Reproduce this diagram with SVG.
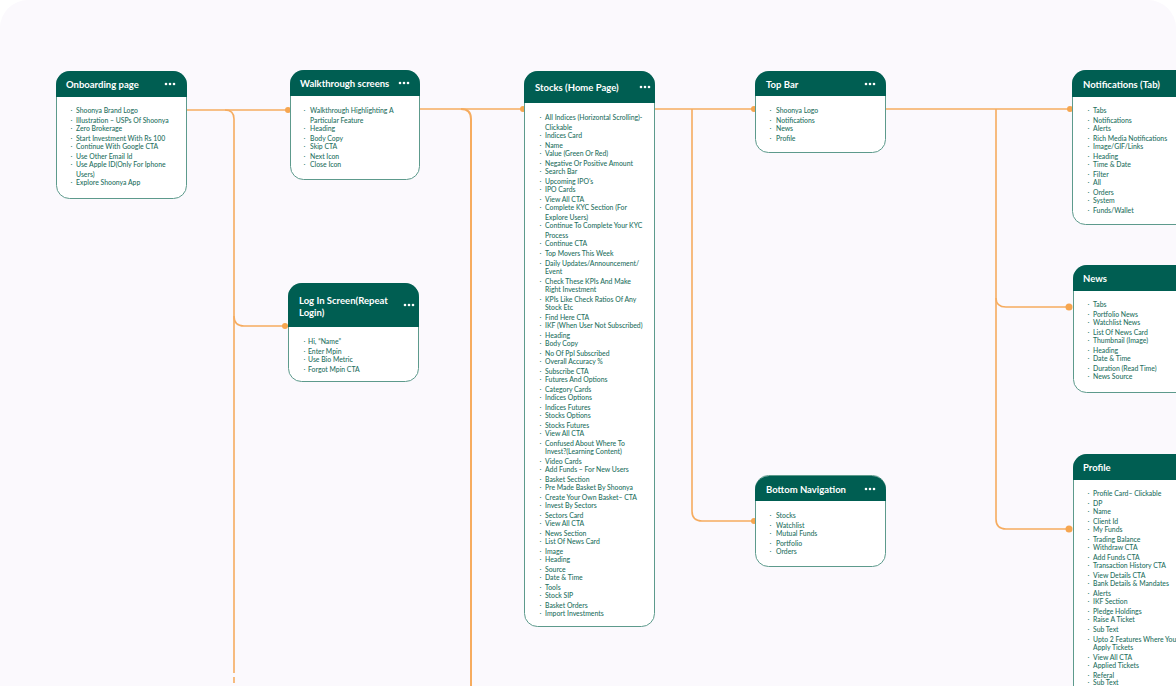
<svg xmlns="http://www.w3.org/2000/svg" width="1176" height="686" viewBox="0 0 1176 686">
<style>
.bg{fill:#fbf9fd}
.body{fill:#fff;stroke:#5d9a8c;stroke-width:1}
.head{fill:#005e52}
text{font-family:"Lato","Noto Sans",sans-serif}
.t{font-size:9.5px;font-weight:700;fill:#fff}
.i{font-size:6.85px;font-weight:500;fill:#1e6f60}
.b{font-size:9px;fill:#2f7f70;font-family:"Liberation Sans",sans-serif}
.d{fill:#fff}
.c{fill:none;stroke:#f6ac5f;stroke-width:1.6}
.w{stroke-width:2}
.p{fill:#f6a650}
</style>
<rect width="1176" height="686" fill="#ffffff"/>
<rect class="bg" width="1176" height="720" rx="28"/>
<g id="connectors">
<path class="c" d="M187 110H290"/>
<path class="c" d="M225 110Q234 110 234 119V673"/>
<path class="c" d="M234 677V683"/>
<path class="c" d="M234 316Q234 326 244 326H289"/>
<path class="c" d="M420 109H525"/>
<path class="c w" d="M461 109Q471 109 471 119V686"/>
<path class="c" d="M655 109H756"/>
<path class="c" d="M692 109V511Q692 521 702 521H756"/>
<path class="c" d="M886 109H1072"/>
<path class="c" d="M996 109V519Q996 529 1006 529H1072"/>
<path class="c" d="M996 298Q996 307 1006 307H1072"/>
<circle class="p" cx="288" cy="110" r="3"/>
<circle class="p" cx="285" cy="326" r="3"/>
<circle class="p" cx="523" cy="109" r="3"/>
<circle class="p" cx="754" cy="109" r="3"/>
<circle class="p" cx="754" cy="521" r="3"/>
<circle class="p" cx="1070" cy="109" r="3"/>
<circle class="p" cx="1069" cy="307" r="3.500"/>
<circle class="p" cx="1069" cy="529" r="3.500"/>
</g>
<g id="onboarding">
<rect class="body" x="56.500" y="71.500" width="130" height="127" rx="13"/>
<path class="head" d="M56 97V85a14 14 0 0 1 14-14h103a14 14 0 0 1 14 14v12z"/>
<text class="t" x="66" y="88">Onboarding page</text>
<circle class="d" cx="166" cy="84" r="1.300"/><circle class="d" cx="170" cy="84" r="1.300"/><circle class="d" cx="174" cy="84" r="1.300"/>
<text class="b" x="70" y="113">·</text><text class="i" x="76" y="113">Shoonya Brand Logo</text>
<text class="b" x="70" y="123">·</text><text class="i" x="76" y="123">Illustration – USPs Of Shoonya</text>
<text class="b" x="70" y="131">·</text><text class="i" x="76" y="131">Zero Brokerage</text>
<text class="b" x="70" y="141">·</text><text class="i" x="76" y="141">Start Investment With Rs 100</text>
<text class="b" x="70" y="149">·</text><text class="i" x="76" y="149">Continue With Google CTA</text>
<text class="b" x="70" y="159">·</text><text class="i" x="76" y="159">Use Other Email Id</text>
<text class="b" x="70" y="167">·</text><text class="i" x="76" y="167">Use Apple ID(Only For Iphone</text>
<text class="i" x="76" y="177">Users)</text>
<text class="b" x="70" y="185">·</text><text class="i" x="76" y="185">Explore Shoonya App</text>
</g>
<g id="walkthrough">
<rect class="body" x="290.500" y="70.500" width="129" height="109" rx="13"/>
<path class="head" d="M290 96V84a14 14 0 0 1 14-14h102a14 14 0 0 1 14 14v12z"/>
<text class="t" x="300" y="87">Walkthrough screens</text>
<circle class="d" cx="400" cy="83" r="1.300"/><circle class="d" cx="404" cy="83" r="1.300"/><circle class="d" cx="408" cy="83" r="1.300"/>
<text class="b" x="303" y="113">·</text><text class="i" x="310" y="113">Walkthrough Highlighting A</text>
<text class="i" x="310" y="123">Particular Feature</text>
<text class="b" x="303" y="131">·</text><text class="i" x="310" y="131">Heading</text>
<text class="b" x="303" y="141">·</text><text class="i" x="310" y="141">Body Copy</text>
<text class="b" x="303" y="149">·</text><text class="i" x="310" y="149">Skip CTA</text>
<text class="b" x="303" y="159">·</text><text class="i" x="310" y="159">Next Icon</text>
<text class="b" x="303" y="167">·</text><text class="i" x="310" y="167">Close Icon</text>
</g>
<g id="login">
<rect class="body" x="288.500" y="283.500" width="130" height="98" rx="13"/>
<path class="head" d="M288 327V297a14 14 0 0 1 14-14h103a14 14 0 0 1 14 14v30z"/>
<text class="t" x="299" y="304">Log In Screen(Repeat</text>
<text class="t" x="299" y="316">Login)</text>
<circle class="d" cx="405" cy="305" r="1.300"/><circle class="d" cx="409" cy="305" r="1.300"/><circle class="d" cx="413" cy="305" r="1.300"/>
<text class="b" x="303" y="344">·</text><text class="i" x="308" y="344">Hi, “Name”</text>
<text class="b" x="303" y="354">·</text><text class="i" x="308" y="354">Enter Mpin</text>
<text class="b" x="303" y="362">·</text><text class="i" x="308" y="362">Use Bio Metric</text>
<text class="b" x="303" y="372">·</text><text class="i" x="308" y="372">Forgot Mpin CTA</text>
</g>
<g id="stocks">
<rect class="body" x="524.500" y="71.500" width="130" height="555" rx="13"/>
<path class="head" d="M524 103V85a14 14 0 0 1 14-14h103a14 14 0 0 1 14 14v18z"/>
<text class="t" x="535" y="91">Stocks (Home Page)</text>
<circle class="d" cx="641" cy="87" r="1.300"/><circle class="d" cx="645" cy="87" r="1.300"/><circle class="d" cx="649" cy="87" r="1.300"/>
<text class="b" x="539" y="120">·</text><text class="i" x="545" y="120">All Indices (Horizontal Scrolling)-</text>
<text class="i" x="545" y="130">Clickable</text>
<text class="b" x="539" y="138">·</text><text class="i" x="545" y="138">Indices Card</text>
<text class="b" x="539" y="148">·</text><text class="i" x="545" y="148">Name</text>
<text class="b" x="539" y="156">·</text><text class="i" x="545" y="156">Value (Green Or Red)</text>
<text class="b" x="539" y="166">·</text><text class="i" x="545" y="166">Negative Or Positive Amount</text>
<text class="b" x="539" y="174">·</text><text class="i" x="545" y="174">Search Bar</text>
<text class="b" x="539" y="184">·</text><text class="i" x="545" y="184">Upcoming IPO’s</text>
<text class="b" x="539" y="192">·</text><text class="i" x="545" y="192">IPO Cards</text>
<text class="b" x="539" y="202">·</text><text class="i" x="545" y="202">View All CTA</text>
<text class="b" x="539" y="210">·</text><text class="i" x="545" y="210">Complete KYC Section (For</text>
<text class="i" x="545" y="220">Explore Users)</text>
<text class="b" x="539" y="228">·</text><text class="i" x="545" y="228">Continue To Complete Your KYC</text>
<text class="i" x="545" y="238">Process</text>
<text class="b" x="539" y="246">·</text><text class="i" x="545" y="246">Continue CTA</text>
<text class="b" x="539" y="256">·</text><text class="i" x="545" y="256">Top Movers This Week</text>
<text class="b" x="539" y="266">·</text><text class="i" x="545" y="266">Daily Updates/Announcement/</text>
<text class="i" x="545" y="274">Event</text>
<text class="b" x="539" y="284">·</text><text class="i" x="545" y="284">Check These KPIs And Make</text>
<text class="i" x="545" y="292">Right Investment</text>
<text class="b" x="539" y="302">·</text><text class="i" x="545" y="302">KPIs Like Check Ratios Of Any</text>
<text class="i" x="545" y="310">Stock Etc</text>
<text class="b" x="539" y="320">·</text><text class="i" x="545" y="320">Find Here CTA</text>
<text class="b" x="539" y="328">·</text><text class="i" x="545" y="328">IKF (When User Not Subscribed)</text>
<text class="b" x="539" y="338">·</text><text class="i" x="545" y="338">Heading</text>
<text class="b" x="539" y="346">·</text><text class="i" x="545" y="346">Body Copy</text>
<text class="b" x="539" y="356">·</text><text class="i" x="545" y="356">No Of Ppl Subscribed</text>
<text class="b" x="539" y="364">·</text><text class="i" x="545" y="364">Overall Accuracy %</text>
<text class="b" x="539" y="374">·</text><text class="i" x="545" y="374">Subscribe CTA</text>
<text class="b" x="539" y="382">·</text><text class="i" x="545" y="382">Futures And Options</text>
<text class="b" x="539" y="392">·</text><text class="i" x="545" y="392">Category Cards</text>
<text class="b" x="539" y="400">·</text><text class="i" x="545" y="400">Indices Options</text>
<text class="b" x="539" y="410">·</text><text class="i" x="545" y="410">Indices Futures</text>
<text class="b" x="539" y="418">·</text><text class="i" x="545" y="418">Stocks Options</text>
<text class="b" x="539" y="428">·</text><text class="i" x="545" y="428">Stocks Futures</text>
<text class="b" x="539" y="436">·</text><text class="i" x="545" y="436">View All CTA</text>
<text class="b" x="539" y="446">·</text><text class="i" x="545" y="446">Confused About Where To</text>
<text class="i" x="545" y="454">Invest?(Learning Content)</text>
<text class="b" x="539" y="464">·</text><text class="i" x="545" y="464">Video Cards</text>
<text class="b" x="539" y="472">·</text><text class="i" x="545" y="472">Add Funds – For New Users</text>
<text class="b" x="539" y="482">·</text><text class="i" x="545" y="482">Basket Section</text>
<text class="b" x="539" y="490">·</text><text class="i" x="545" y="490">Pre Made Basket By Shoonya</text>
<text class="b" x="539" y="500">·</text><text class="i" x="545" y="500">Create Your Own Basket– CTA</text>
<text class="b" x="539" y="508">·</text><text class="i" x="545" y="508">Invest By Sectors</text>
<text class="b" x="539" y="518">·</text><text class="i" x="545" y="518">Sectors Card</text>
<text class="b" x="539" y="526">·</text><text class="i" x="545" y="526">View All CTA</text>
<text class="b" x="539" y="536">·</text><text class="i" x="545" y="536">News Section</text>
<text class="b" x="539" y="544">·</text><text class="i" x="545" y="544">List Of News Card</text>
<text class="b" x="539" y="554">·</text><text class="i" x="545" y="554">Image</text>
<text class="b" x="539" y="562">·</text><text class="i" x="545" y="562">Heading</text>
<text class="b" x="539" y="572">·</text><text class="i" x="545" y="572">Source</text>
<text class="b" x="539" y="580">·</text><text class="i" x="545" y="580">Date &amp; Time</text>
<text class="b" x="539" y="590">·</text><text class="i" x="545" y="590">Tools</text>
<text class="b" x="539" y="598">·</text><text class="i" x="545" y="598">Stock SIP</text>
<text class="b" x="539" y="608">·</text><text class="i" x="545" y="608">Basket Orders</text>
<text class="b" x="539" y="616">·</text><text class="i" x="545" y="616">Import Investments</text>
</g>
<g id="topbar">
<rect class="body" x="755.500" y="71.500" width="130" height="81" rx="13"/>
<path class="head" d="M755 96V85a14 14 0 0 1 14-14h103a14 14 0 0 1 14 14v11z"/>
<text class="t" x="766" y="88">Top Bar</text>
<circle class="d" cx="866" cy="84" r="1.300"/><circle class="d" cx="870" cy="84" r="1.300"/><circle class="d" cx="874" cy="84" r="1.300"/>
<text class="b" x="769" y="113">·</text><text class="i" x="776" y="113">Shoonya Logo</text>
<text class="b" x="769" y="123">·</text><text class="i" x="776" y="123">Notifications</text>
<text class="b" x="769" y="131">·</text><text class="i" x="776" y="131">News</text>
<text class="b" x="769" y="141">·</text><text class="i" x="776" y="141">Profile</text>
</g>
<g id="bottomnav">
<rect class="body" x="755.500" y="475.500" width="130" height="91" rx="13"/>
<path class="head" d="M755 501V490a14 14 0 0 1 14-14h103a14 14 0 0 1 14 14v11z"/>
<text class="t" x="766" y="493">Bottom Navigation</text>
<circle class="d" cx="866" cy="489" r="1.300"/><circle class="d" cx="870" cy="489" r="1.300"/><circle class="d" cx="874" cy="489" r="1.300"/>
<text class="b" x="769" y="518">·</text><text class="i" x="776" y="518">Stocks</text>
<text class="b" x="769" y="528">·</text><text class="i" x="776" y="528">Watchlist</text>
<text class="b" x="769" y="536">·</text><text class="i" x="776" y="536">Mutual Funds</text>
<text class="b" x="769" y="546">·</text><text class="i" x="776" y="546">Portfolio</text>
<text class="b" x="769" y="554">·</text><text class="i" x="776" y="554">Orders</text>
</g>
<g id="notifications">
<rect class="body" x="1072.500" y="70.500" width="130" height="154" rx="13"/>
<path class="head" d="M1072 97V84a14 14 0 0 1 14-14h103v27z"/>
<text class="t" x="1083" y="88">Notifications (Tab)</text>
<text class="b" x="1087" y="113">·</text><text class="i" x="1093" y="113">Tabs</text>
<text class="b" x="1087" y="123">·</text><text class="i" x="1093" y="123">Notifications</text>
<text class="b" x="1087" y="131">·</text><text class="i" x="1093" y="131">Alerts</text>
<text class="b" x="1087" y="141">·</text><text class="i" x="1093" y="141">Rich Media Notifications</text>
<text class="b" x="1087" y="149">·</text><text class="i" x="1093" y="149">Image/GIF/Links</text>
<text class="b" x="1087" y="159">·</text><text class="i" x="1093" y="159">Heading</text>
<text class="b" x="1087" y="167">·</text><text class="i" x="1093" y="167">Time &amp; Date</text>
<text class="b" x="1087" y="177">·</text><text class="i" x="1093" y="177">Filter</text>
<text class="b" x="1087" y="185">·</text><text class="i" x="1093" y="185">All</text>
<text class="b" x="1087" y="195">·</text><text class="i" x="1093" y="195">Orders</text>
<text class="b" x="1087" y="203">·</text><text class="i" x="1093" y="203">System</text>
<text class="b" x="1087" y="213">·</text><text class="i" x="1093" y="213">Funds/Wallet</text>
</g>
<g id="news">
<rect class="body" x="1073.500" y="265.500" width="130" height="127" rx="13"/>
<path class="head" d="M1073 291V279a14 14 0 0 1 14-14h103v26z"/>
<text class="t" x="1083" y="282">News</text>
<text class="b" x="1087" y="307">·</text><text class="i" x="1093" y="307">Tabs</text>
<text class="b" x="1087" y="317">·</text><text class="i" x="1093" y="317">Portfolio News</text>
<text class="b" x="1087" y="325">·</text><text class="i" x="1093" y="325">Watchlist News</text>
<text class="b" x="1087" y="335">·</text><text class="i" x="1093" y="335">List Of News Card</text>
<text class="b" x="1087" y="343">·</text><text class="i" x="1093" y="343">Thumbnail (Image)</text>
<text class="b" x="1087" y="353">·</text><text class="i" x="1093" y="353">Heading</text>
<text class="b" x="1087" y="361">·</text><text class="i" x="1093" y="361">Date &amp; Time</text>
<text class="b" x="1087" y="371">·</text><text class="i" x="1093" y="371">Duration (Read Time)</text>
<text class="b" x="1087" y="379">·</text><text class="i" x="1093" y="379">News Source</text>
</g>
<g id="profile">
<rect class="body" x="1073.500" y="454.500" width="130" height="260" rx="13"/>
<path class="head" d="M1073 480V468a14 14 0 0 1 14-14h103v26z"/>
<text class="t" x="1083" y="471">Profile</text>
<text class="b" x="1087" y="496">·</text><text class="i" x="1093" y="496">Profile Card– Clickable</text>
<text class="b" x="1087" y="506">·</text><text class="i" x="1093" y="506">DP</text>
<text class="b" x="1087" y="514">·</text><text class="i" x="1093" y="514">Name</text>
<text class="b" x="1087" y="524">·</text><text class="i" x="1093" y="524">Client Id</text>
<text class="b" x="1087" y="532">·</text><text class="i" x="1093" y="532">My Funds</text>
<text class="b" x="1087" y="542">·</text><text class="i" x="1093" y="542">Trading Balance</text>
<text class="b" x="1087" y="550">·</text><text class="i" x="1093" y="550">Withdraw CTA</text>
<text class="b" x="1087" y="560">·</text><text class="i" x="1093" y="560">Add Funds CTA</text>
<text class="b" x="1087" y="568">·</text><text class="i" x="1093" y="568">Transaction History CTA</text>
<text class="b" x="1087" y="578">·</text><text class="i" x="1093" y="578">View Details CTA</text>
<text class="b" x="1087" y="586">·</text><text class="i" x="1093" y="586">Bank Details &amp; Mandates</text>
<text class="b" x="1087" y="596">·</text><text class="i" x="1093" y="596">Alerts</text>
<text class="b" x="1087" y="604">·</text><text class="i" x="1093" y="604">IKF Section</text>
<text class="b" x="1087" y="614">·</text><text class="i" x="1093" y="614">Pledge Holdings</text>
<text class="b" x="1087" y="622">·</text><text class="i" x="1093" y="622">Raise A Ticket</text>
<text class="b" x="1087" y="632">·</text><text class="i" x="1093" y="632">Sub Text</text>
<text class="b" x="1087" y="642">·</text><text class="i" x="1093" y="642">Upto 2 Features Where You</text>
<text class="i" x="1093" y="650">Apply Tickets</text>
<text class="b" x="1087" y="660">·</text><text class="i" x="1093" y="660">View All CTA</text>
<text class="b" x="1087" y="668">·</text><text class="i" x="1093" y="668">Applied Tickets</text>
<text class="b" x="1087" y="678">·</text><text class="i" x="1093" y="678">Referal</text>
<text class="b" x="1087" y="685">·</text><text class="i" x="1093" y="685">Sub Text</text>
</g>
</svg>
